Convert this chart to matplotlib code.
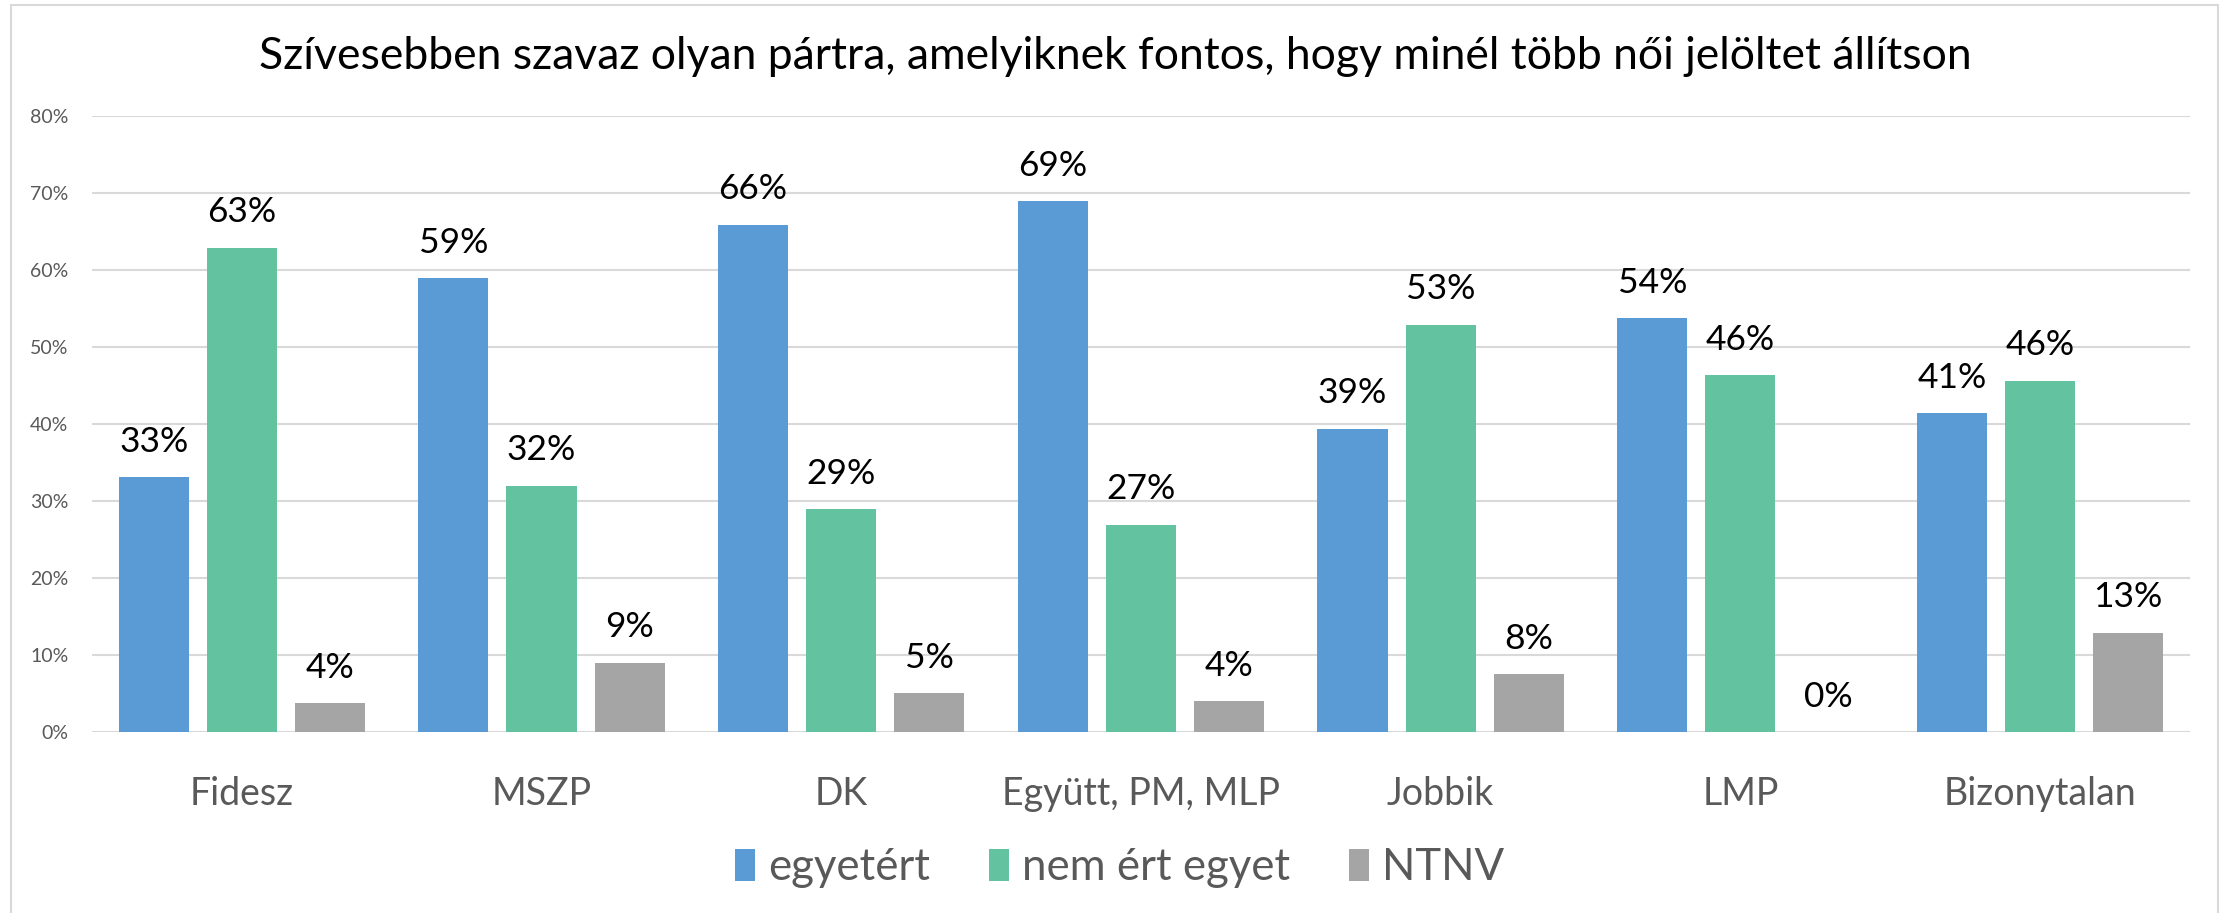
import numpy as np
import matplotlib.pyplot as plt
from matplotlib.patches import Rectangle

plt.rcParams['font.family'] = ['Lato', 'DejaVu Sans']

# categories and series (percent)
parties = ['Fidesz', 'MSZP', 'DK', 'Együtt, PM, MLP', 'Jobbik', 'LMP', 'Bizonytalan']
egyetert = [33.1, 58.9, 65.9, 68.9, 39.4, 53.7, 41.4]
nem_ert = [62.9, 32.0, 28.9, 26.9, 52.9, 46.3, 45.6]
ntnv = [3.7, 9.0, 5.0, 4.0, 7.5, 0.0, 12.9]
series_names = ['egyetért', 'nem ért egyet', 'NTNV']
colors = ['#5B9BD5', '#63C3A0', '#A5A5A5']
title = 'Szívesebben szavaz olyan pártra, amelyiknek fontos, hogy minél több női jelöltet állítson'

fig = plt.figure(figsize=(22.21, 9.13), dpi=100)
ax = fig.add_axes([0.0414, 0.1983, 0.9446, 0.6747])

x = np.arange(len(parties))
step = 0.294
width = 0.234
for i, (vals, col, name) in enumerate(zip([egyetert, nem_ert, ntnv], colors, series_names)):
    pos = x + (i - 1) * step
    ax.bar(pos, np.array(vals) / 100, width=width, color=col, label=name, zorder=2)
    for px, v in zip(pos, vals):
        ax.annotate(f'{v:.0f}%', xy=(px, v / 100), xytext=(0, 14), textcoords='offset points',
                    ha='center', va='bottom', fontsize=25.5, color='#000000')

ax.set_xlim(-0.5, len(parties) - 0.5)
ax.set_ylim(0, 0.8)
ax.set_yticks(np.arange(0, 0.81, 0.1))
ax.set_yticklabels([f'{int(round(t * 100))}%' for t in np.arange(0, 0.81, 0.1)])
ax.yaxis.grid(True, color='#D9D9D9', linewidth=1.5, zorder=0)
ax.set_axisbelow(True)
for s in ax.spines.values():
    s.set_visible(False)
ax.tick_params(axis='y', length=0, labelsize=14, labelcolor='#595959', pad=17)
ax.set_xticks(x)
ax.set_xticklabels(parties)
ax.tick_params(axis='x', length=0, labelsize=27, labelcolor='#595959', pad=32)

fig.text(0.502, 0.9376, title, ha='center', va='center', fontsize=32, color='#000000')

leg = fig.legend(loc='center', bbox_to_anchor=(0.504, 0.0500), ncol=3, frameon=False,
                 fontsize=31.5, handlelength=0.45, handleheight=0.75, handletextpad=0.3,
                 columnspacing=1.35)
for t in leg.get_texts():
    t.set_color('#595959')

fig.patches.append(Rectangle((0.005, -0.02), 0.9935, 1.0145, transform=fig.transFigure,
                             fill=False, edgecolor='#D9D9D9', linewidth=1.5))

fig.savefig('out.png', dpi=100)
